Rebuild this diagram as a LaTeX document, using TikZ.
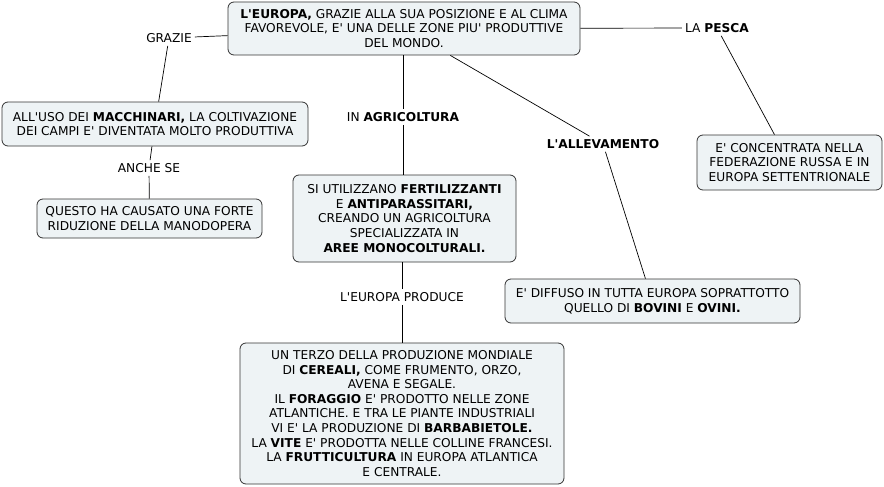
\documentclass[tikz,border=0pt]{standalone}
\usepackage{fontspec}
\setmainfont{DejaVu Sans}[Ligatures=TeXOff]
\begin{document}
\begin{tikzpicture}[x=1pt,y=-1pt,
  cbox/.style={draw=black!80, fill=boxfill, rounded corners=6pt, line width=0.8pt,
    align=center, inner sep=0pt, font=\fontsize{12.2}{14.6}\selectfont},
  lbl/.style={inner sep=3pt, font=\fontsize{12.2}{14.6}\selectfont},
  conn/.style={draw=black, line width=0.7pt}]
\definecolor{boxfill}{HTML}{EEF3F5}
\useasboundingbox (0,0) rectangle (884,487);

\node[cbox, minimum width=352pt, minimum height=53pt] (top) at (404,28.5)
  {\textbf{L'EUROPA,} GRAZIE ALLA SUA POSIZIONE E AL CLIMA\\FAVOREVOLE, E' UNA DELLE ZONE PIU' PRODUTTIVE\\DEL MONDO.};
\node[cbox, minimum width=306pt, minimum height=44pt] (macc) at (155,124)
  {ALL'USO DEI \textbf{MACCHINARI,} LA COLTIVAZIONE\\DEI CAMPI E' DIVENTATA MOLTO PRODUTTIVA};
\node[cbox, minimum width=225pt, minimum height=39pt] (questo) at (149.5,218.5)
  {QUESTO HA CAUSATO UNA FORTE\\RIDUZIONE DELLA MANODOPERA};
\node[cbox, minimum width=223pt, minimum height=87pt] (fert) at (404.5,218.5)
  {SI UTILIZZANO \textbf{FERTILIZZANTI}\\E \textbf{ANTIPARASSITARI,}\\CREANDO UN AGRICOLTURA\\SPECIALIZZATA IN\\\textbf{AREE MONOCOLTURALI.}};
\node[cbox, minimum width=295pt, minimum height=44pt] (diff) at (652.5,301)
  {E' DIFFUSO IN TUTTA EUROPA SOPRATTOTTO\\QUELLO DI \textbf{BOVINI} E \textbf{OVINI.}};
\node[cbox, minimum width=185pt, minimum height=55pt] (conc) at (789.5,162.5)
  {E' CONCENTRATA NELLA\\FEDERAZIONE RUSSA E IN\\EUROPA SETTENTRIONALE};
\node[cbox, minimum width=324pt, minimum height=141pt] (prod) at (402,413.5)
  {UN TERZO DELLA PRODUZIONE MONDIALE\\DI \textbf{CEREALI,} COME FRUMENTO, ORZO,\\AVENA E SEGALE.\\IL \textbf{FORAGGIO} E' PRODOTTO NELLE ZONE\\ATLANTICHE. E TRA LE PIANTE INDUSTRIALI\\VI E' LA PRODUZIONE DI \textbf{BARBABIETOLE.}\\LA \textbf{VITE} E' PRODOTTA NELLE COLLINE FRANCESI.\\LA \textbf{FRUTTICULTURA} IN EUROPA ATLANTICA\\E CENTRALE.};

\node[lbl] (grazie) at (169,38) {GRAZIE};
\node[lbl] (pesca) at (717,28) {LA \textbf{PESCA}};
\node[lbl] (agri) at (403,117) {IN \textbf{AGRICOLTURA}};
\node[lbl] (allev) at (603,144) {\textbf{L'ALLEVAMENTO}};
\node[lbl] (anche) at (149,168) {ANCHE SE};
\node[lbl] (produce) at (402,297) {L'EUROPA PRODUCE};

\draw[conn] (top) -- (grazie);
\draw[conn] (grazie) -- (macc);
\draw[conn] (top) -- (pesca);
\draw[conn] (pesca) -- (conc);
\draw[conn] (top.south -| agri) -- (agri);
\draw[conn] (agri) -- (fert.north -| agri);
\draw[conn] (top) -- (allev);
\draw[conn] (allev) -- (diff);
\draw[conn] (macc) -- (anche);
\draw[conn] (anche) -- (questo);
\draw[conn] (fert.south -| produce) -- (produce);
\draw[conn] (produce) -- (prod);
\end{tikzpicture}
\end{document}
